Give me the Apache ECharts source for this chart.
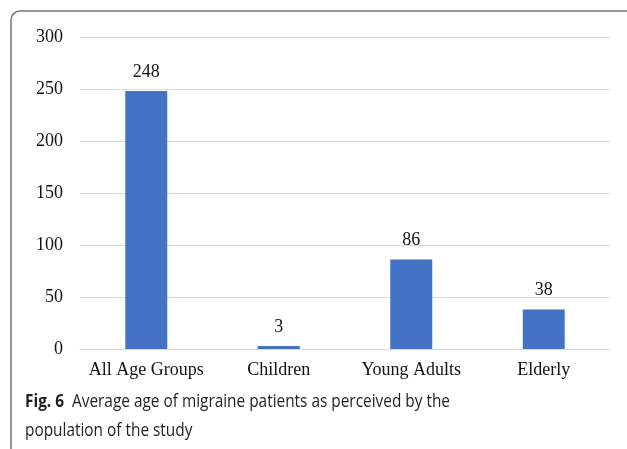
<!DOCTYPE html>
<html><head><meta charset="utf-8">
<script src="https://cdn.jsdelivr.net/npm/echarts@6/dist/echarts.min.js"></script>
<style>html,body{margin:0;padding:0;background:#fff}#c{width:627px;height:449px}</style>
</head><body><div id="c"></div>
<script>
const categories = ['All Age Groups', 'Children', 'Young Adults', 'Elderly'];
const values = [248, 3, 86, 38];
const yTicks = [0, 50, 100, 150, 200, 250, 300];
const captionBold = 'Fig. 6';
const captionLine1 = 'Average age of migraine patients as perceived by the';
const captionLine2 = 'population of the study';

const chart = echarts.init(document.getElementById('c'), null, {renderer: 'canvas'});
const serif = '"Liberation Serif", "Times New Roman", serif';
const sans = '"Open Sans", "Noto Sans", sans-serif';
chart.setOption({
  animation: false,
  backgroundColor: '#fff',
  grid: {left: 80, right: 17, top: 37, bottom: 100, containLabel: false},
  xAxis: {
    type: 'category', data: categories,
    axisLine: {show: true, lineStyle: {color: '#d9d9d9', width: 1}},
    axisTick: {show: false},
    axisLabel: {color: '#111', fontFamily: serif, fontSize: 18, margin: 12, interval: 0}
  },
  yAxis: {
    type: 'value', min: yTicks[0], max: yTicks[yTicks.length - 1], interval: 50,
    axisLine: {show: false}, axisTick: {show: false},
    splitLine: {lineStyle: {color: '#d9d9d9', width: 1}},
    axisLabel: {color: '#111', fontFamily: serif, fontSize: 18, margin: 17}
  },
  series: [{
    type: 'bar', data: values, barWidth: 42,
    itemStyle: {color: '#4472c4'},
    label: {show: true, position: 'top', distance: 10, color: '#111', fontFamily: serif, fontSize: 18}
  }],
  graphic: [
    {type: 'rect', shape: {x: 11, y: 11, width: 640, height: 460, r: 9},
     style: {fill: 'none', stroke: '#777', lineWidth: 1.5}, silent: true},
    {type: 'text', x: 25, y: 387, scaleX: 0.855, scaleY: 1,
     style: {text: '{b|' + captionBold + '}  ' + captionLine1 + '\n' + captionLine2,
       font: '18px ' + sans, fill: '#231f20', lineHeight: 29, verticalAlign: 'top', align: 'left',
       rich: {b: {fontWeight: 'bold', fontSize: 18, fontFamily: sans, fill: '#231f20', lineHeight: 29}}}}
  ]
});
</script></body></html>
